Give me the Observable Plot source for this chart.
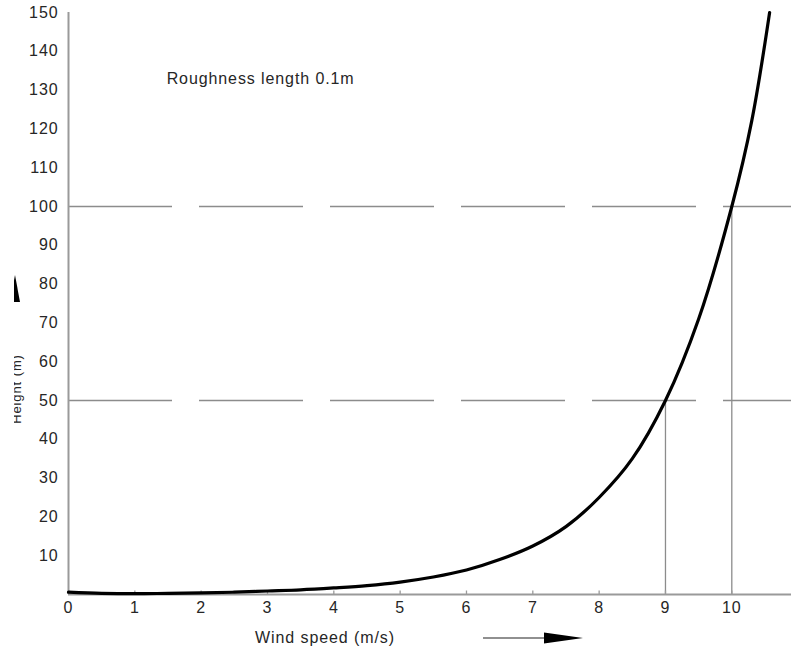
<!DOCTYPE html>
<html>
<head>
<meta charset="utf-8">
<script src="https://cdn.jsdelivr.net/npm/d3@7"></script>
<script src="https://cdn.jsdelivr.net/npm/@observablehq/plot@0.6"></script>
<style>
  html, body { margin: 0; padding: 0; background: white; }
  #chart svg { display: block; }
</style>
</head>
<body>
<div id="chart"></div>
<script>
// Wind profile curve
const speeds  = [0, 0.5, 1, 1.5, 2, 2.5, 3, 3.5, 4, 4.5, 5, 5.5, 6, 6.5, 7, 7.5, 8, 8.5, 9, 9.5, 10, 10.3, 10.57];
const heights = [0.6, 0.3, 0.2, 0.3, 0.4, 0.6, 0.9, 1.2, 1.7, 2.3, 3.2, 4.5, 6.3, 9, 12.5, 17.5, 25, 35, 50, 71, 100, 122, 150];

// Reference heights (dashed) and the speeds at which the curve reaches them
const refHeights = [50, 100];
const refSpeeds  = [9, 10];

const xTicks = [0, 1, 2, 3, 4, 5, 6, 7, 8, 9, 10];
const yTicks = [10, 20, 30, 40, 50, 60, 70, 80, 90, 100, 110, 120, 130, 140, 150];

const noteText = ["Roughness length 0.1m"];
const noteSpeed = [1.48];
const noteHeight = [133];

const xTitle = "Wind speed (m/s)";
const yTitle = "Height (m)";

const curve = speeds.map((s, i) => ({speed: s, height: heights[i]}));
const refs = refSpeeds.map((s, i) => ({speed: s, height: refHeights[i]}));
const notes = noteText.map((t, i) => ({text: t, speed: noteSpeed[i], height: noteHeight[i]}));

const FONT = "'Liberation Sans', Arial, Helvetica, sans-serif";
const AXIS = "#9a9a9a";
const INK = "#262626";

const chart = Plot.plot({
  width: 791,
  height: 646,
  marginLeft: 68,
  marginRight: 0,
  marginTop: 12,
  marginBottom: 52,
  style: {fontFamily: FONT, fontSize: "16px", color: INK, background: "white", letterSpacing: "0.9px"},
  x: {domain: [0, 10.9], ticks: xTicks, tickSize: 0, tickPadding: 7, label: null, tickFormat: d => String(d)},
  y: {domain: [0, 150], ticks: yTicks, tickSize: 0, tickPadding: 10, label: null, tickFormat: d => String(d)},
  marks: [
    Plot.ruleY(refHeights, {stroke: "#8c8c8c", strokeWidth: 1.3, strokeDasharray: "104,27"}),
    Plot.ruleX(refs, {x: "speed", y1: 0, y2: "height", stroke: "#8c8c8c", strokeWidth: 1.3}),
    Plot.ruleX(xTicks, {y1: 0, y2: 0.9, stroke: AXIS, strokeWidth: 1.3}),
    Plot.ruleX([0], {stroke: AXIS, strokeWidth: 2}),
    Plot.ruleY([0], {stroke: AXIS, strokeWidth: 2}),
    Plot.line(curve, {x: "speed", y: "height", curve: "catmull-rom", stroke: "black", strokeWidth: 3.2}),
    Plot.text(notes, {x: "speed", y: "height", text: "text", textAnchor: "start", fontSize: 16, fill: INK})
  ]
});

document.getElementById("chart").appendChild(chart);

// Axis titles and arrows (decoration placed relative to the frame)
const svg = d3.select(chart);
const xs = chart.scale("x"), ys = chart.scale("y");
const yBase = ys.apply(0);

// x title + arrow
svg.append("text")
  .attr("x", 325).attr("y", yBase + 49)
  .attr("font-family", FONT).attr("font-size", 16).attr("letter-spacing", "0.9px")
  .attr("fill", INK)
  .text(xTitle);
svg.append("line")
  .attr("x1", 483).attr("x2", 548).attr("y1", yBase + 44).attr("y2", yBase + 44)
  .attr("stroke", "#222").attr("stroke-width", 1.2);
svg.append("path")
  .attr("d", `M544,${yBase + 38.5} L583,${yBase + 44} L544,${yBase + 49.5} Z`)
  .attr("fill", "black");

// y title + arrow, partly cut at the left edge as in the picture
const clip = svg.append("defs").append("clipPath").attr("id", "ycut");
clip.append("rect").attr("x", 14).attr("y", 0).attr("width", 40).attr("height", 646);
const g = svg.append("g").attr("clip-path", "url(#ycut)");
g.append("text")
  .attr("transform", `translate(21,389) rotate(-90)`)
  .attr("text-anchor", "middle")
  .attr("font-family", FONT).attr("font-size", 13)
  .attr("fill", INK)
  .text(yTitle);
g.append("path")
  .attr("d", "M15,275 L20,302 L10,302 Z")
  .attr("fill", "black");
</script>
</body>
</html>
